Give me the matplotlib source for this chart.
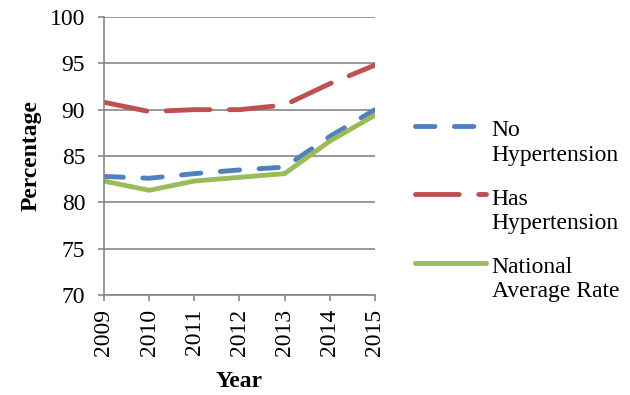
import matplotlib
matplotlib.use('Agg')
import matplotlib.pyplot as plt
from matplotlib.legend_handler import HandlerLine2D

years = [2009, 2010, 2011, 2012, 2013, 2014, 2015]
no_htn = [82.8, 82.6, 83.1, 83.5, 83.8, 87.1, 90.0]
has_htn = [90.8, 89.8, 90.0, 90.0, 90.5, 92.8, 94.8]
national = [82.3, 81.3, 82.3, 82.7, 83.1, 86.6, 89.4]
labels = ['No\nHypertension', 'Has\nHypertension', 'National\nAverage Rate']

plt.rcParams['font.family'] = ['Liberation Serif', 'DejaVu Serif']
grey = '#868686'
fs = 17


class FirstLineHandler(HandlerLine2D):
    # put the legend line next to the first text line instead of the middle
    def create_artists(self, *args, **kwargs):
        artists = super().create_artists(*args, **kwargs)
        for a in artists:
            a.set_ydata([y + 12 for y in a.get_ydata()])
        return artists


fig = plt.figure(figsize=(6.3, 3.95), dpi=100)
ax = fig.add_axes([0.165, 0.253, 0.43, 0.704])

ax.plot(years, no_htn, color='#4F81BD', lw=3.5, dashes=(4, 4),
        dash_capstyle='round', label=labels[0])
ax.plot(years, has_htn, color='#C0504D', lw=3.5, dashes=(9, 4),
        dash_capstyle='round', label=labels[1])
ax.plot(years, national, color='#9BBB59', lw=3.5,
        solid_capstyle='round', label=labels[2])

ax.set_xlim(2009, 2015)
ax.set_ylim(70, 100)
ax.set_yticks(range(70, 101, 5))
ax.set_xticks(years)
ax.set_xticklabels([str(y) for y in years], rotation=90)
ax.tick_params(labelsize=fs, color=grey, length=4, width=1.2)
ax.tick_params(axis='x', pad=6)
ax.tick_params(axis='y', pad=9.5)
ax.grid(axis='y', color=grey, lw=1.2)
ax.set_axisbelow(True)
for s in ['top', 'right']:
    ax.spines[s].set_visible(False)
for s in ['left', 'bottom']:
    ax.spines[s].set_color(grey)
    ax.spines[s].set_linewidth(1.2)

ax.set_xlabel('Year', fontsize=fs, fontweight='bold', labelpad=11)
ax.set_ylabel('Percentage', fontsize=fs, fontweight='bold', labelpad=6)

handles, _ = ax.get_legend_handles_labels()
fig.legend(handles, labels, loc='center left', bbox_to_anchor=(0.625, 0.465),
           frameon=False, fontsize=fs, handlelength=3.0, handletextpad=0.25,
           labelspacing=0.98,
           handler_map={h: FirstLineHandler() for h in handles})

fig.savefig('out.png', dpi=100)
